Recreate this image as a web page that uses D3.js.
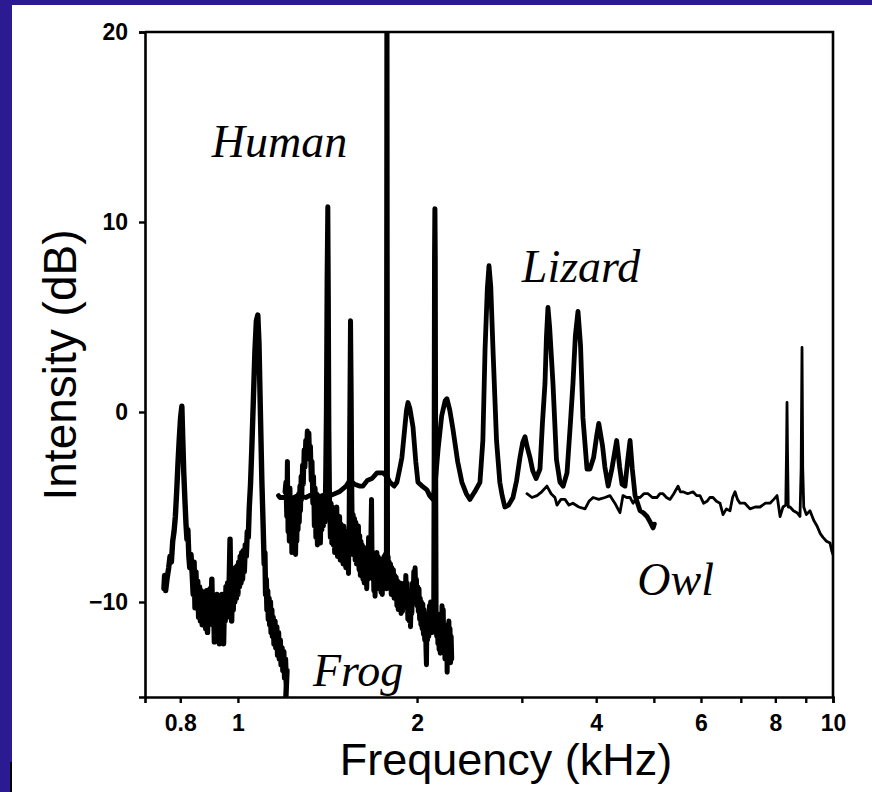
<!DOCTYPE html>
<html><head><meta charset="utf-8">
<script src="https://cdn.jsdelivr.net/npm/d3@7"></script>
<style>html,body{margin:0;padding:0;background:#2b1a91;} svg{display:block}</style>
</head><body>
<svg id="chart" width="872" height="792"></svg>
<script>
// ---------- data ----------
const xTickValues = [0.8, 1, 2, 3, 4, 5, 6, 7, 8, 9, 10];
const xTickLabels = ["0.8", "1", "2", "", "4", "", "6", "", "8", "", "10"];
const yTickValues = [20, 10, 0, -10];
const yTickLabels = ["20", "10", "0", "\u221210"];
const xTitle = "Frequency (kHz)";
const yTitle = "Intensity (dB)";
const speciesNames = ["Human", "Lizard", "Owl", "Frog"];
const speciesAnchorF = [0.904, 3.0, 4.69, 1.337];
const speciesAnchorDb = [13.4, 6.84, -9.63, -14.4];

// [kHz, dB]
const frog = [[0.751,-9.3],[0.753,-8.6],[0.756,-9.4],[0.760,-8.8],[0.765,-8.2],[0.769,-7.6],[0.773,-7.9],[0.777,-6.8],[0.781,-6.3],[0.785,-5.5],[0.789,-4.2],[0.793,-2.7],[0.797,-1.4],[0.801,-0.3],[0.805,0.3],[0.808,-1.5],[0.811,-3.2],[0.815,-4.8],[0.818,-5.9],[0.821,-6.7],[0.824,-6.2],[0.827,-7.6],[0.830,-8.2],[0.834,-7.5],
[0.838,-8.6],[0.841,-9.6],[0.844,-7.9],[0.847,-10.3],[0.850,-8.4],[0.853,-10.0],[0.856,-8.9],[0.859,-10.8],[0.862,-9.2],[0.865,-11.0],[0.868,-9.4],[0.871,-11.2],[0.874,-9.7],[0.877,-11.0],[0.880,-9.6],[0.883,-11.4],[0.886,-9.4],[0.889,-11.6],[0.892,-9.8],[0.895,-11.0],[0.898,-9.3],[0.901,-10.8],[0.904,-8.8],[0.907,-11.2],[0.910,-9.7],[0.913,-12.1],[0.916,-9.8],[0.919,-11.4],[0.922,-9.6],[0.925,-11.3],[0.928,-9.9],[0.931,-12.2],[0.934,-10.0],[0.937,-11.6],[0.940,-9.6],[0.943,-11.3],[0.946,-12.2],[0.949,-10.0],[0.952,-11.0],[0.955,-9.2],[0.958,-10.8],[0.961,-9.0],[0.964,-10.6],[0.967,-8.8],[0.970,-6.7],[0.973,-9.6],[0.976,-11.0],[0.979,-8.8],[0.982,-10.4],[0.985,-8.6],[0.988,-10.0],[0.991,-8.2],[0.994,-9.8],[0.997,-8.1],[1.000,-9.6],[1.003,-7.9],[1.006,-9.2],[1.009,-7.6],[1.012,-9.0],[1.015,-7.4],[1.018,-8.8],[1.021,-7.3],[1.025,-8.4],[1.029,-7.0],[1.033,-7.6],[1.037,-6.3],[1.041,-6.6],[1.045,-5.0],[1.050,-3.8],[1.055,-2.0],[1.062,0.8],[1.068,3.2],[1.074,4.8],[1.080,5.1],[1.085,3.6],[1.090,0.5],[1.097,-3.6],
[1.103,-6.2],[1.107,-8.0],[1.110,-7.4],[1.113,-9.6],[1.116,-8.8],[1.119,-10.4],[1.122,-9.4],[1.125,-10.9],[1.128,-9.8],[1.131,-11.2],[1.134,-10.0],[1.137,-11.6],[1.140,-10.4],[1.143,-11.8],[1.146,-10.8],[1.150,-12.2],[1.154,-11.0],[1.158,-12.4],[1.162,-11.3],[1.166,-12.8],[1.170,-11.6],[1.174,-13.0],[1.178,-12.0],[1.182,-13.3],[1.186,-12.4],[1.190,-13.6],[1.194,-12.6],[1.198,-14.0],[1.202,-13.0],[1.206,-14.4],[1.209,-13.6],[1.204,-15.0]];

const human = [[1.200,-4.2],[1.204,-3.7],[1.208,-5.5],[1.211,-2.6],[1.214,-6.3],[1.217,-4.4],[1.220,-6.8],[1.223,-4.0],[1.226,-6.0],[1.229,-4.8],[1.232,-7.4],[1.235,-5.0],[1.238,-6.6],[1.241,-4.6],[1.244,-7.0],[1.247,-5.2],[1.250,-7.5],[1.253,-5.4],[1.256,-6.8],[1.259,-4.7],[1.262,-6.2],[1.265,-4.3],[1.268,-5.8],[1.271,-3.9],[1.274,-5.2],[1.277,-3.4],[1.280,-4.6],[1.284,-2.8],[1.288,-3.8],[1.292,-2.0],[1.296,-2.9],[1.300,-1.5],[1.304,-2.2],[1.308,-1.0],[1.312,-1.6],[1.316,-1.1],[1.320,-2.5],[1.324,-1.8],[1.328,-3.6],[1.332,-2.6],[1.336,-4.8],[1.340,-3.4],[1.344,-6.0],[1.348,-4.0],[1.352,-6.6],[1.356,-4.3],[1.360,-7.0],[1.364,-4.8],[1.368,-6.4],[1.372,-4.5],[1.376,-6.9],[1.380,-4.9],[1.384,-6.2],[1.388,-4.4],[1.392,-6.0],[1.396,-4.6],[1.400,-5.8],[1.404,-3.6],[1.408,0.0],[1.412,7.0],[1.416,10.8],[1.419,6.0],[1.422,-1.0],[1.426,-5.0],[1.430,-6.6],[1.434,-4.8],[1.438,-6.9],[1.442,-5.0],[1.446,-7.0],[1.450,-5.3],[1.454,-7.4],[1.458,-5.4],[1.462,-6.9],[1.466,-5.0],[1.470,-7.6],[1.474,-5.6],[1.478,-7.2],[1.482,-5.5],[1.486,-7.8],[1.490,-5.9],[1.494,-7.5],[1.498,-6.1],[1.502,-8.0],[1.506,-6.0],[1.510,-7.6],[1.514,-6.4],[1.518,-8.2],[1.522,-6.3],[1.526,-7.9],[1.530,-6.6],[1.534,-8.5],[1.538,-5.5],[1.542,0.0],[1.546,4.8],[1.550,1.0],[1.554,-4.5],[1.558,-7.5],[1.562,-5.4],[1.566,-7.2],[1.570,-5.6],[1.574,-7.8],[1.578,-5.8],[1.582,-8.0],[1.586,-6.2],[1.590,-7.6],[1.594,-6.0],[1.598,-8.3],[1.602,-6.5],[1.606,-8.6],[1.610,-6.8],[1.614,-8.4],[1.618,-7.0],[1.622,-8.8],[1.626,-7.1],[1.630,-9.0],[1.634,-7.3],[1.638,-8.6],[1.642,-7.4],[1.646,-9.3],[1.650,-7.6],[1.654,-8.8],[1.658,-6.6],[1.662,-8.4],[1.666,-7.0],[1.670,-8.2],[1.674,-6.0],[1.677,-4.6],[1.680,-7.5],[1.684,-8.8],[1.688,-7.4],[1.692,-9.4],[1.696,-7.8],[1.700,-9.7],[1.704,-7.9],[1.708,-9.2],[1.712,-7.4],[1.716,-8.9],[1.720,-7.6],[1.724,-9.3],[1.728,-7.7],[1.732,-9.0],[1.736,-7.9],[1.740,-9.5],[1.744,-8.1],[1.748,-9.6],[1.752,-8.2],[1.756,-9.1],[1.760,-7.6],[1.764,-8.8],[1.768,-7.5],[1.772,-9.0],[1.776,-9.3],[1.778,8.0],[1.780,25.0],[1.782,8.0],[1.784,-8.0],[1.788,-7.6],[1.792,-9.0],[1.796,-7.9],[1.800,-9.3],[1.805,-8.0],[1.810,-9.6],[1.815,-8.2],[1.820,-9.4],[1.825,-8.3],[1.830,-9.8],[1.835,-8.6],[1.840,-9.7],[1.845,-8.7],[1.850,-10.2],[1.855,-8.9],[1.860,-10.4],[1.865,-9.1],[1.870,-10.0],[1.875,-9.0],[1.880,-10.6],[1.885,-9.3],[1.890,-10.5],[1.895,-9.4],[1.900,-10.3],[1.905,-9.0],[1.910,-10.1],[1.915,-8.6],[1.920,-9.8],[1.925,-9.0],[1.930,-10.9],[1.935,-9.4],[1.940,-11.0],[1.945,-9.6],[1.950,-11.3],[1.955,-9.8],[1.960,-10.6],[1.965,-9.0],[1.970,-10.0],[1.975,-8.4],[1.980,-9.6],[1.985,-8.2],[1.990,-9.8],[1.995,-8.8],[2.000,-10.2],[2.005,-9.2],[2.010,-10.5],[2.015,-9.3],[2.020,-10.9],[2.025,-9.8],[2.030,-11.2],[2.035,-10.0],[2.040,-11.4],[2.045,-10.1],[2.050,-11.7],[2.055,-10.4],[2.060,-12.0],[2.065,-10.6],[2.070,-12.4],[2.074,-13.3],[2.078,-11.0],[2.083,-12.0],[2.088,-10.6],[2.093,-11.8],[2.098,-10.2],[2.103,-11.5],[2.108,-10.0],[2.113,-11.3],[2.118,-10.1],[2.123,-11.6],[2.128,-10.4],[2.133,-11.0],[2.137,-2.0],[2.140,8.0],[2.143,10.7],[2.146,8.0],[2.149,-2.0],[2.153,-10.5],[2.158,-11.8],[2.163,-10.6],[2.168,-12.2],[2.173,-10.9],[2.178,-12.5],[2.183,-11.0],[2.188,-12.7],[2.193,-10.8],[2.198,-11.9],[2.203,-10.2],[2.208,-11.6],[2.213,-10.4],[2.218,-12.4],[2.223,-11.2],[2.228,-13.0],[2.233,-11.6],[2.238,-12.8],[2.243,-11.4],[2.247,-13.7],[2.252,-11.2],[2.257,-12.6],[2.262,-11.0],[2.267,-12.8],[2.272,-11.4],[2.277,-13.2],[2.282,-11.8],[2.287,-13.0]];

const lizard = [[1.170,-4.4],[1.176,-4.5],[1.200,-4.5],[1.223,-4.6],[1.260,-4.4],[1.300,-4.5],[1.340,-4.3],[1.390,-4.5],[1.430,-4.4],[1.480,-4.2],[1.520,-3.9],[1.542,-3.6],[1.570,-3.8],[1.600,-3.9],[1.622,-3.9],[1.650,-3.6],[1.680,-3.5],[1.713,-3.2],[1.753,-3.2],[1.780,-3.4],[1.801,-3.7],[1.830,-3.9],[1.850,-3.7],[1.870,-3.0],[1.886,-2.4],[1.905,-1.0],[1.920,0.1],[1.931,0.5],[1.945,0.2],[1.969,-0.8],[1.990,-2.6],[2.007,-3.7],[2.040,-3.9],[2.078,-4.1],[2.100,-4.4],[2.127,-4.6],[2.145,-3.8],[2.169,-2.0],[2.200,-0.2],[2.230,0.6],[2.245,0.7],[2.270,0.1],[2.298,-0.9],[2.340,-2.6],[2.379,-3.7],[2.420,-4.3],[2.454,-4.6],[2.500,-4.2],[2.551,-3.7],[2.580,-1.5],[2.602,3.3],[2.625,6.5],[2.642,7.7],[2.660,6.6],[2.683,3.3],[2.720,-1.5],[2.755,-3.7],[2.780,-4.4],[2.809,-5.0],[2.850,-4.9],[2.899,-4.5],[2.940,-3.6],[2.978,-2.4],[3.010,-1.6],[3.037,-1.3],[3.060,-1.8],[3.096,-2.4],[3.130,-3.1],[3.170,-3.5],[3.218,-3.0],[3.250,-0.5],[3.281,1.5],[3.300,4.0],[3.319,5.5],[3.340,4.5],[3.384,1.5],[3.430,-2.5],[3.477,-3.7],[3.520,-3.9],[3.573,-3.2],[3.620,-0.6],[3.656,1.5],[3.690,4.0],[3.728,5.3],[3.765,3.5],[3.800,-0.3],[3.860,-3.0],[3.904,-3.0],[3.960,-2.4],[4.010,-1.2],[4.040,-0.6],[4.100,-1.8],[4.137,-2.9],[4.190,-3.9],[4.250,-3.0],[4.330,-1.5],[4.380,-2.9],[4.420,-3.8],[4.472,-3.9],[4.520,-2.5],[4.560,-1.5],[4.600,-3.0],[4.649,-4.4],[4.740,-5.2],[4.800,-5.3],[4.870,-5.5],[4.930,-5.8],[4.985,-6.1],[5.010,-5.9]];

const owl = [[3.060,-4.3],[3.120,-4.5],[3.181,-4.4],[3.240,-4.2],[3.306,-3.9],[3.360,-4.3],[3.410,-4.5],[3.437,-4.9],[3.490,-4.6],[3.545,-4.6],[3.600,-4.9],[3.656,-4.8],[3.740,-5.0],[3.831,-5.1],[3.890,-4.7],[3.952,-4.5],[4.040,-4.6],[4.137,-4.5],[4.218,-4.4],[4.300,-4.8],[4.385,-5.3],[4.437,-4.4],[4.500,-4.5],[4.560,-4.5],[4.613,-4.8],[4.680,-4.5],[4.740,-4.5],[4.810,-4.3],[4.889,-4.3],[4.970,-4.5],[5.060,-4.5],[5.120,-4.3],[5.180,-4.3],[5.250,-4.5],[5.322,-4.6],[5.400,-4.3],[5.490,-3.9],[5.540,-4.2],[5.597,-4.2],[5.700,-4.3],[5.818,-4.2],[5.900,-4.4],[5.977,-4.4],[6.060,-4.8],[6.141,-4.7],[6.210,-4.5],[6.285,-4.5],[6.370,-4.7],[6.458,-4.8],[6.534,-5.4],[6.620,-5.1],[6.713,-5.2],[6.780,-4.5],[6.844,-4.2],[6.910,-4.6],[6.978,-4.8],[7.110,-4.8],[7.253,-5.1],[7.400,-5.0],[7.540,-5.0],[7.700,-4.8],[7.838,-4.8],[7.950,-4.6],[8.054,-4.4],[8.148,-5.5],[8.241,-5.0],[8.330,-4.9],[8.355,-2.0],[8.370,0.5],[8.385,-2.0],[8.410,-5.0],[8.468,-5.0],[8.580,-5.2],[8.700,-5.3],[8.801,-5.5],[8.840,-3.0],[8.870,3.4],[8.895,-3.0],[8.930,-5.0],[9.020,-5.4],[9.148,-5.2],[9.280,-5.7],[9.400,-6.0],[9.520,-6.4],[9.621,-6.6],[9.750,-6.8],[9.886,-6.9],[9.950,-7.3],[10.00,-7.5]];

// ---------- drawing ----------
const svg = d3.select("#chart");
const W = 872, H = 792;
const plot = {left: 145, right: 833, top: 32, bottom: 697};

svg.append("rect").attr("width", W).attr("height", H).attr("fill", "#2b1a91");
svg.append("rect").attr("x", 12).attr("y", 5).attr("width", W - 12).attr("height", H - 5).attr("fill", "#ffffff");
svg.append("line").attr("x1", 11).attr("x2", 11).attr("y1", 762).attr("y2", H).attr("stroke", "#000").attr("stroke-width", 2);

const x = d3.scaleLog().domain([0.698, 10]).range([plot.left, plot.right]);
const y = d3.scaleLinear().domain([-15, 20]).range([plot.bottom, plot.top]);

svg.append("defs").append("clipPath").attr("id", "clip")
  .append("rect").attr("x", plot.left).attr("y", plot.top)
  .attr("width", plot.right - plot.left).attr("height", plot.bottom - plot.top);

const line = d3.line().x(d => x(d[0])).y(d => y(d[1]));
const g = svg.append("g").attr("clip-path", "url(#clip)");
const series = [
  {data: frog, w: 5.4},
  {data: human, w: 5.0},
  {data: lizard, w: 4.8},
  {data: owl, w: 2.8}
];
g.selectAll("path.s").data(series).join("path").attr("class", "s")
  .attr("d", d => line(d.data)).attr("fill", "none").attr("stroke", "#000")
  .attr("stroke-width", d => d.w).attr("stroke-linejoin", "round").attr("stroke-linecap", "round");

// frame (top and right)
svg.append("path")
  .attr("d", `M${plot.left},${plot.top}H${plot.right}V${plot.bottom}`)
  .attr("fill", "none").attr("stroke", "#000").attr("stroke-width", 2.6);

// axes
const xAxis = d3.axisBottom(x).tickValues(xTickValues).tickSize(6).tickPadding(12)
  .tickFormat((d, i) => xTickLabels[i]);
const gx = svg.append("g").attr("transform", `translate(0,${plot.bottom})`).call(xAxis);
gx.selectAll(".tick text").filter(function() { return this.textContent === ""; }).remove();
const yAxis = d3.axisLeft(y).tickValues(yTickValues).tickSize(6).tickPadding(11)
  .tickFormat((d, i) => yTickLabels[i]);
const gy = svg.append("g").attr("transform", `translate(${plot.left},0)`).call(yAxis);
[gx, gy].forEach(a => {
  a.select(".domain").attr("stroke", "#000").attr("stroke-width", 2.6);
  a.selectAll(".tick line").attr("stroke", "#000").attr("stroke-width", 2.4);
  a.selectAll(".tick text").attr("fill", "#000")
    .style("font-family", "'Liberation Sans', Arial, sans-serif")
    .style("font-weight", "bold").style("font-size", "23px");
});

// axis titles
svg.append("text").attr("x", 506).attr("y", 775).attr("text-anchor", "middle")
  .style("font-family", "'Liberation Sans', Arial, sans-serif").style("font-size", "45px")
  .attr("fill", "#000").text(xTitle);
svg.append("text").attr("transform", "translate(76,365) rotate(-90)").attr("text-anchor", "middle")
  .style("font-family", "'Liberation Sans', Arial, sans-serif").style("font-size", "46px")
  .attr("fill", "#000").text(yTitle);

// species labels
svg.selectAll("text.sp").data(speciesNames).join("text").attr("class", "sp")
  .attr("x", (d, i) => x(speciesAnchorF[i])).attr("y", (d, i) => y(speciesAnchorDb[i]))
  .style("font-family", "'Liberation Serif', 'Times New Roman', serif")
  .style("font-style", "italic").style("font-size", "46px").attr("fill", "#000")
  .text(d => d);
</script>
</body></html>
